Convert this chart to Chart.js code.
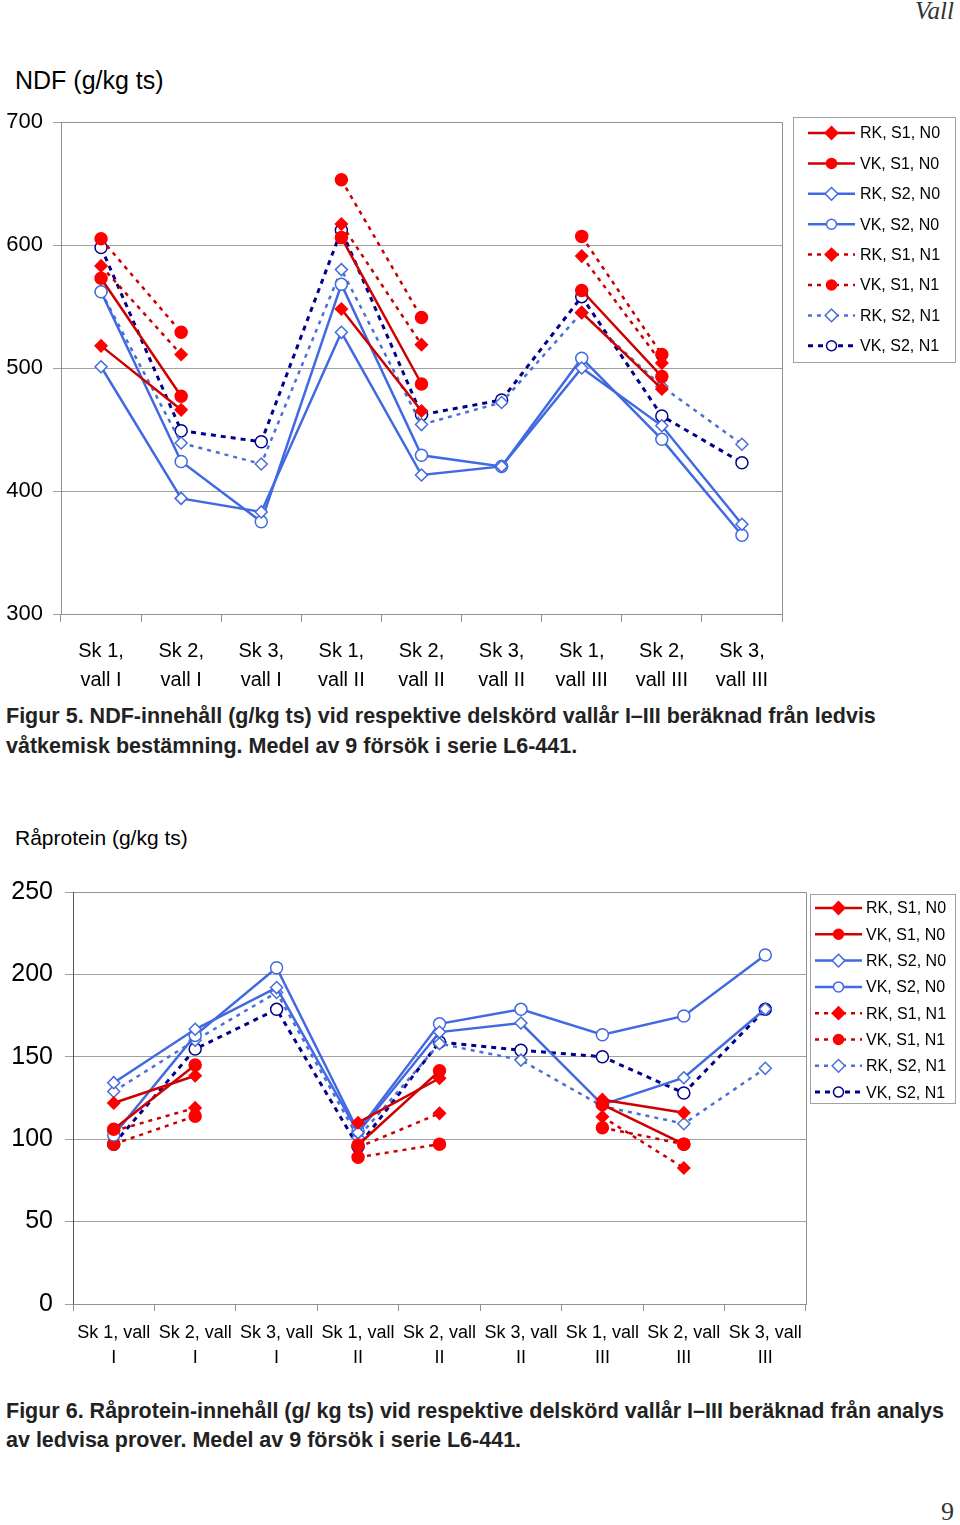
<!DOCTYPE html>
<html>
<head>
<meta charset="utf-8">
<script src="https://cdn.jsdelivr.net/npm/chart.js@4.4.1/dist/chart.umd.min.js"></script>
<style>
  html, body { margin: 0; padding: 0; background: #fff; }
  body { width: 960px; height: 1525px; position: relative; overflow: hidden; font-family: "Liberation Sans", Arial, sans-serif; }
  .abs { position: absolute; white-space: nowrap; }
  canvas { position: absolute; left: 0; }
  .cap { font-weight: bold; font-size: 21.5px; color: #222; left: 6px; line-height: 21.5px; }
</style>
</head>
<body>
<div class="abs" style="right:6px; top:-3px; font-family:'Liberation Serif',serif; font-style:italic; font-size:25px; color:#333;">Vall</div>
<div class="abs" style="left:15px; top:68px; font-size:25px; line-height:25px; color:#000;">NDF (g/kg ts)</div>
<canvas id="c1" width="960" height="600" style="top:100px;"></canvas>
<div class="abs cap" style="top:706px;">Figur 5. NDF-innehåll (g/kg ts) vid respektive delskörd vallår I–III beräknad från ledvis</div>
<div class="abs cap" style="top:736px;">våtkemisk bestämning. Medel av 9 försök i serie L6-441.</div>

<div class="abs" style="left:15px; top:827px; font-size:21px; line-height:21px; color:#000;">Råprotein (g/kg ts)</div>
<canvas id="c2" width="960" height="510" style="top:870px;"></canvas>
<div class="abs cap" style="top:1401px;">Figur 6. Råprotein-innehåll (g/ kg ts) vid respektive delskörd vallår I–III beräknad från analys</div>
<div class="abs cap" style="top:1430px;">av ledvisa prover. Medel av 9 försök i serie L6-441.</div>
<div class="abs" style="right:6px; top:1497px; font-family:'Liberation Serif',serif; font-size:26px; color:#333;">9</div>

<script>
// ---------- DATA ----------
const seriesNames = ["RK, S1, N0", "VK, S1, N0", "RK, S2, N0", "VK, S2, N0", "RK, S1, N1", "VK, S1, N1", "RK, S2, N1", "VK, S2, N1"];

const ndfCategories = [["Sk 1,", "vall I"], ["Sk 2,", "vall I"], ["Sk 3,", "vall I"],
                       ["Sk 1,", "vall II"], ["Sk 2,", "vall II"], ["Sk 3,", "vall II"],
                       ["Sk 1,", "vall III"], ["Sk 2,", "vall III"], ["Sk 3,", "vall III"]];
const ndfTicks = [300, 400, 500, 600, 700];
const ndf_RK_S1_N0 = [518, 466, null, 548, 465, null, 545, 483, null];
const ndf_VK_S1_N0 = [573, 477, null, 606, 487, null, 563, 493, null];
const ndf_RK_S2_N0 = [501, 394, 383, 529, 413, 420, 500, 453, 373];
const ndf_VK_S2_N0 = [562, 424, 375, 568, 429, 420, 508, 442, 364];
const ndf_RK_S1_N1 = [583, 511, null, 617, 519, null, 591, 504, null];
const ndf_VK_S1_N1 = [605, 529, null, 653, 541, null, 607, 511, null];
const ndf_RK_S2_N1 = [562, 439, 422, 580, 454, 472, 545, 485, 438];
const ndf_VK_S2_N1 = [598, 449, 440, 612, 462, 474, 558, 461, 423];

const rpCategories = [["Sk 1, vall", "I"], ["Sk 2, vall", "I"], ["Sk 3, vall", "I"],
                      ["Sk 1, vall", "II"], ["Sk 2, vall", "II"], ["Sk 3, vall", "II"],
                      ["Sk 1, vall", "III"], ["Sk 2, vall", "III"], ["Sk 3, vall", "III"]];
const rpTicks = [0, 50, 100, 150, 200, 250];
const rp_RK_S1_N0 = [122, 138.5, null, 110, 137, null, 124, 116, null];
const rp_VK_S1_N0 = [106, 145, null, 96.5, 141.5, null, 121, 97, null];
const rp_RK_S2_N0 = [134.3, 166.7, 192, 104, 165, 170.5, 121, 137.3, 179];
const rp_VK_S2_N0 = [102.5, 163, 204, 105, 170, 178.8, 163.4, 174.8, 211.8];
const rp_RK_S1_N1 = [105, 119, null, 95, 115.7, null, 113.6, 82.5, null];
const rp_VK_S1_N1 = [97, 114, null, 89, 97, null, 107, 97, null];
const rp_RK_S2_N1 = [129, 160, 189, 101, 158, 148, 120, 109.4, 143];
const rp_VK_S2_N1 = [97, 154.7, 178.8, 95.5, 159, 154, 150, 128, 178.8];

// ---------- STYLES ----------
const RED_LINE = '#d00000', RED_PT = '#ff0000', RED_DASH = '#c80000';
const BLUE = '#4169e1', LBLUE = '#4a6fd6', NAVY = '#00008b';
const styles = [
  { borderColor: RED_LINE, borderDash: [], pointStyle: 'rectRot', pointBackgroundColor: RED_PT, pointBorderColor: RED_PT, borderWidth: 2.5, r: 6 },
  { borderColor: RED_LINE, borderDash: [], pointStyle: 'circle', pointBackgroundColor: RED_PT, pointBorderColor: RED_PT, borderWidth: 2.5, r: 6 },
  { borderColor: BLUE, borderDash: [], pointStyle: 'rectRot', pointBackgroundColor: '#fff', pointBorderColor: BLUE, borderWidth: 2.5, r: 6 },
  { borderColor: BLUE, borderDash: [], pointStyle: 'circle', pointBackgroundColor: '#fff', pointBorderColor: BLUE, borderWidth: 2.5, r: 6 },
  { borderColor: RED_DASH, borderDash: [4, 5], pointStyle: 'rectRot', pointBackgroundColor: RED_PT, pointBorderColor: RED_PT, borderWidth: 2.5, r: 6 },
  { borderColor: RED_DASH, borderDash: [4, 5], pointStyle: 'circle', pointBackgroundColor: RED_PT, pointBorderColor: RED_PT, borderWidth: 2.5, r: 6 },
  { borderColor: LBLUE, borderDash: [4, 5], pointStyle: 'rectRot', pointBackgroundColor: '#fff', pointBorderColor: LBLUE, borderWidth: 2.5, r: 6 },
  { borderColor: NAVY, borderDash: [5, 5], pointStyle: 'circle', pointBackgroundColor: '#fff', pointBorderColor: NAVY, borderWidth: 3, r: 6 }
];

function makeDatasets(arrs) {
  return arrs.map((d, i) => {
    const s = styles[i];
    return {
      label: seriesNames[i], data: d,
      borderColor: s.borderColor, borderDash: s.borderDash, borderWidth: s.borderWidth,
      pointStyle: s.pointStyle, pointBackgroundColor: s.pointBackgroundColor, pointBorderColor: s.pointBorderColor,
      pointBorderWidth: 1.5, pointRadius: s.r, pointHoverRadius: s.r,
      spanGaps: false, tension: 0, fill: false
    };
  });
}

function framePlugin(color, leftColor) {
  return {
    id: 'frame',
    afterDraw(chart) {
      const { ctx, chartArea: a } = chart;
      ctx.save();
      ctx.lineWidth = 1;
      ctx.strokeStyle = color;
      ctx.beginPath();
      ctx.moveTo(a.left, a.top + 0.5); ctx.lineTo(a.right + 0.5, a.top + 0.5);
      ctx.lineTo(a.right + 0.5, a.bottom + 0.5); ctx.lineTo(a.left, a.bottom + 0.5);
      ctx.stroke();
      ctx.strokeStyle = leftColor;
      ctx.beginPath(); ctx.moveTo(a.left + 0.5, a.top); ctx.lineTo(a.left + 0.5, a.bottom + 0.5); ctx.stroke();
      ctx.restore();
    }
  };
}

function drawMarker(ctx, ds, x, y, r) {
  ctx.save();
  ctx.setLineDash([]);
  ctx.fillStyle = ds.pointBackgroundColor;
  ctx.strokeStyle = ds.pointBorderColor;
  ctx.lineWidth = 1.5;
  ctx.beginPath();
  if (ds.pointStyle === 'circle') {
    ctx.arc(x, y, r, 0, Math.PI * 2);
  } else {
    const d = r * Math.SQRT2 * 0.9;
    ctx.moveTo(x, y - d); ctx.lineTo(x + d, y); ctx.lineTo(x, y + d); ctx.lineTo(x - d, y); ctx.closePath();
  }
  ctx.fill(); ctx.stroke();
  ctx.restore();
}

function legendPlugin(box) {
  return {
    id: 'myLegend',
    afterDraw(chart) {
      const ctx = chart.ctx;
      ctx.save();
      ctx.strokeStyle = '#a0a0a0'; ctx.lineWidth = 1;
      ctx.strokeRect(box.x + 0.5, box.y + 0.5, box.w, box.h);
      chart.data.datasets.forEach((ds, i) => {
        const y = box.firstY + i * box.step;
        ctx.save();
        ctx.strokeStyle = ds.borderColor; ctx.lineWidth = ds.borderWidth;
        ctx.setLineDash(ds.borderDash);
        ctx.beginPath(); ctx.moveTo(box.lx1, y); ctx.lineTo(box.lx2, y); ctx.stroke();
        ctx.restore();
        drawMarker(ctx, ds, (box.lx1 + box.lx2) / 2, y, 5);
        ctx.fillStyle = '#000';
        ctx.font = box.font;
        ctx.textBaseline = 'middle'; ctx.textAlign = 'left';
        ctx.fillText(ds.label, box.tx, y + 1);
      });
      ctx.restore();
    }
  };
}

Chart.defaults.font.family = '"Liberation Sans", Arial, sans-serif';
Chart.defaults.color = '#000';

function makeChart(id, cfg) {
  return new Chart(document.getElementById(id), {
    type: 'line',
    data: { labels: cfg.labels, datasets: makeDatasets(cfg.arrs) },
    options: {
      responsive: false, animation: false, devicePixelRatio: 1,
      layout: { padding: { top: cfg.padTop, right: cfg.padRight, left: 0, bottom: 0 } },
      plugins: { legend: { display: false }, tooltip: { enabled: false }, title: { display: false } },
      scales: {
        x: {
          type: 'category', offset: true,
          grid: { offset: true, drawOnChartArea: false, drawTicks: true, tickLength: cfg.xTick, color: '#909090' },
          border: { display: true, color: '#909090' },
          ticks: { autoSkip: false, maxRotation: 0, minRotation: 0, padding: cfg.xPad, color: '#000',
                   font: { size: cfg.xFont, lineHeight: cfg.xLH } },
          afterFit(s) { s.height = cfg.xHeight; s.paddingLeft = 0; s.paddingRight = 0; }
        },
        y: {
          min: cfg.yMin, max: cfg.yMax,
          afterBuildTicks(s) { s.ticks = cfg.yTicks.map(v => ({ value: v })); },
          grid: { color: '#a0a0a0', drawTicks: true, tickLength: 8, lineWidth: 1 },
          border: { display: true, color: cfg.leftColor },
          ticks: { padding: cfg.yPad, color: '#000', font: { size: cfg.yFont } },
          afterFit(s) { s.width = cfg.yWidth; s.paddingTop = 0; s.paddingBottom = 0; }
        }
      }
    },
    plugins: [framePlugin('#909090', cfg.leftColor), legendPlugin(cfg.legend)]
  });
}

makeChart('c1', {
  labels: ndfCategories,
  arrs: [ndf_RK_S1_N0, ndf_VK_S1_N0, ndf_RK_S2_N0, ndf_VK_S2_N0, ndf_RK_S1_N1, ndf_VK_S1_N1, ndf_RK_S2_N1, ndf_VK_S2_N1],
  yMin: 300, yMax: 700, yTicks: ndfTicks,
  padTop: 22, padRight: 178, yWidth: 61, xHeight: 86,
  xTick: 8, xPad: 15, xFont: 20, xLH: 1.45, yPad: 10, yFont: 22, leftColor: '#909090',
  legend: { x: 793, y: 17, w: 162, h: 245, firstY: 33, step: 30.4, lx1: 808, lx2: 855, tx: 860, font: '16px "Liberation Sans", Arial, sans-serif' }
});

makeChart('c2', {
  labels: rpCategories,
  arrs: [rp_RK_S1_N0, rp_VK_S1_N0, rp_RK_S2_N0, rp_VK_S2_N0, rp_RK_S1_N1, rp_VK_S1_N1, rp_RK_S2_N1, rp_VK_S2_N1],
  yMin: 0, yMax: 250, yTicks: rpTicks,
  padTop: 22, padRight: 154, yWidth: 73, xHeight: 76,
  xTick: 7, xPad: 10, xFont: 18, xLH: 1.39, yPad: 12, yFont: 25, leftColor: '#555',
  legend: { x: 810, y: 24, w: 145, h: 209, firstY: 38, step: 26.3, lx1: 815, lx2: 862, tx: 866, font: '16px "Liberation Sans", Arial, sans-serif' }
});
</script>
</body>
</html>
